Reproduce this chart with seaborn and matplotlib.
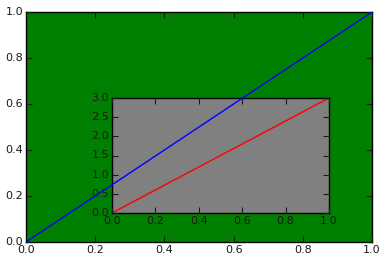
import matplotlib
matplotlib.use("Agg")
import matplotlib.pyplot as plt
import seaborn as sns
import pandas as pd

# Data
main_x = [0.0, 1.0]
main_y = [0.0, 1.0]
inset_x = [0.0, 1.0]
inset_y = [0.0, 3.0]
main_ticks = [0.0, 0.2, 0.4, 0.6, 0.8, 1.0]
inset_xticks = [0.0, 0.2, 0.4, 0.6, 0.8, 1.0]
inset_yticks = [0.0, 0.5, 1.0, 1.5, 2.0, 2.5, 3.0]

sns.set_theme()
plt.style.use("classic")
plt.rcParams['font.family'] = ['DejaVu Sans']

fig = plt.figure(figsize=(3.85, 2.63), dpi=100)
fig.patch.set_facecolor("white")

main_pos = [26/385, 21/263, 346/385, 230/263]
inset_pos = [112/385, 50/263, 217/385, 115/263]

ax = fig.add_axes(main_pos, zorder=0)
ax.set_facecolor("green")
ax.set_xlim(0, 1)
ax.set_ylim(0, 1)
ax.set_xticks(main_ticks)
ax.set_yticks(main_ticks)

axi = fig.add_axes(inset_pos, zorder=1)
axi.set_facecolor("gray")
df_in = pd.DataFrame({"x": inset_x, "y": inset_y})
sns.lineplot(data=df_in, x="x", y="y", ax=axi, color="red", linewidth=1)
axi.set_xlim(0, 1)
axi.set_ylim(0, 3)
axi.set_xticks(inset_xticks)
axi.set_yticks(inset_yticks)
axi.set_xlabel("")
axi.set_ylabel("")

# overlay for main line drawn above inset
axo = fig.add_axes(main_pos, zorder=2, sharex=ax, sharey=ax)
axo.patch.set_visible(False)
df_main = pd.DataFrame({"x": main_x, "y": main_y})
sns.lineplot(data=df_main, x="x", y="y", ax=axo, color="blue", linewidth=1)
axo.axis("off")
ax.set_xlim(0, 1)
ax.set_ylim(0, 1)

for a in (ax, axi):
    a.tick_params(direction="in", length=4, width=0.8, labelsize=8,
                  top=True, right=True, pad=2)
    a.xaxis.set_major_formatter(matplotlib.ticker.FormatStrFormatter("%.1f"))
    a.yaxis.set_major_formatter(matplotlib.ticker.FormatStrFormatter("%.1f"))
    a.grid(False)
    for s in a.spines.values():
        s.set_color("black")
        s.set_linewidth(1)

fig.savefig("out.png", dpi=100, facecolor="white")
